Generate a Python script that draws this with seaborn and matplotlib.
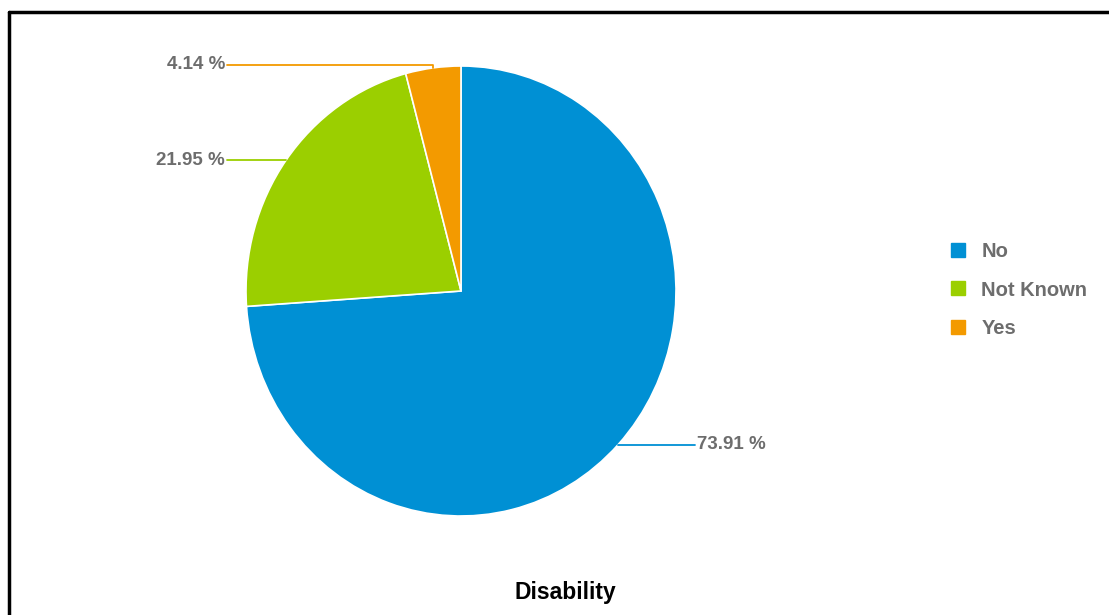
import matplotlib.pyplot as plt
import seaborn as sns
import numpy as np
from matplotlib.lines import Line2D

# valores
categorias = ['No', 'Not Known', 'Yes']
percentuais = [73.91, 21.95, 4.14]
cores = ['#0090D4', '#9BCF00', '#F39A00']
titulo = 'Disability'

sns.set_theme(style="white")
plt.rcParams['font.family'] = ['Liberation Sans', 'DejaVu Sans']

W, H = 1109, 615
fig = plt.figure(figsize=(W / 100, H / 100), dpi=100)

# pizza levemente achatada como na imagem original (raio x 215px, y 225px)
cx, cy, rx, ry = 461, 291, 215, 225
half = 300
ax = fig.add_axes([(cx - half) / W, (H - cy - half) / H, 2 * half / W, 2 * half / H])

wedges, _ = ax.pie(percentuais, colors=cores, startangle=90, counterclock=False,
                   wedgeprops={'edgecolor': 'white', 'linewidth': 1.2})
ax.set_aspect('auto')
ax.set_xlim(-half / rx, half / rx)
ax.set_ylim(-half / ry, half / ry)
ax.axis('off')

# rótulos com linhas de ligação
cinza = '#6d6d6d'
x_fim = 1.09
for w, p, c in zip(wedges, percentuais, cores):
    ang = np.deg2rad((w.theta1 + w.theta2) / 2)
    x0, y0 = np.cos(ang), np.sin(ang)
    ly = y0 if abs(y0) < 0.98 else np.sign(y0) * 1.006
    lado = 1 if x0 > 0 else -1
    ax.plot([x0, x0, lado * x_fim], [y0, ly, ly], color=c, lw=1.3, clip_on=False)
    ax.text(lado * (x_fim + 0.008), ly, f'{p:.2f} %', color=cinza, fontsize=13.5,
            fontweight='bold', ha='left' if lado > 0 else 'right', va='center')

# legenda
handles = [Line2D([], [], marker='s', linestyle='', markersize=10,
                  markerfacecolor=c, markeredgecolor=c) for c in cores]
leg = fig.legend(handles, categorias, loc='center left',
                 bbox_to_anchor=(932 / W, (H - 290) / H), frameon=False,
                 prop={'weight': 'bold', 'size': 14.5}, handlelength=0.8,
                 handletextpad=0.75, labelspacing=0.98)
for t in leg.get_texts():
    t.set_color(cinza)

fig.text(565 / W, (H - 593) / H, titulo, ha='center', va='center',
         fontsize=16.5, fontweight='bold', color='black',
         family=['Liberation Sans Narrow', 'Liberation Sans', 'DejaVu Sans'])

# moldura (só esquerda e topo aparecem no recorte)
fig.add_artist(Line2D([9 / W, 9 / W], [0, (H - 12) / H], color='black', lw=2.5))
fig.add_artist(Line2D([9 / W, 1], [(H - 12) / H, (H - 12) / H], color='black', lw=2.5))

fig.savefig('out.png', dpi=100, facecolor='white')
